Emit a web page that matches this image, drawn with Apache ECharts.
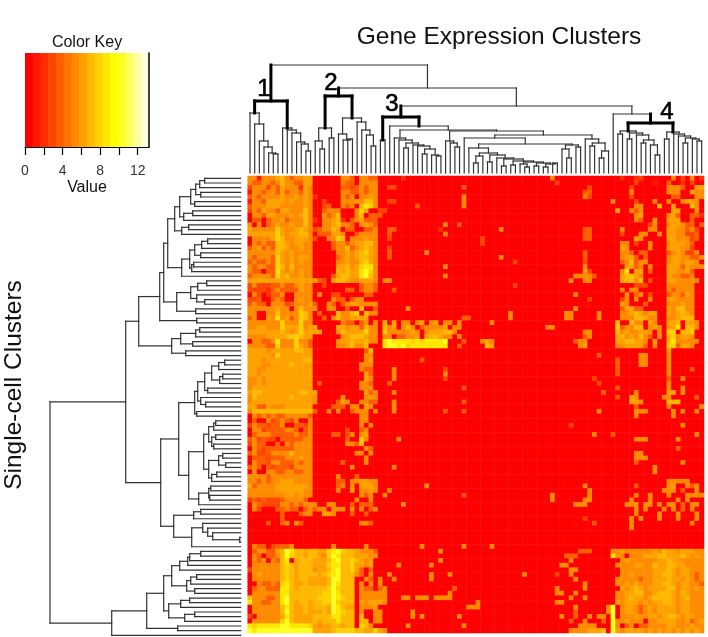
<!DOCTYPE html>
<html><head><meta charset="utf-8">
<style>html,body{margin:0;padding:0;background:#fff}#c{width:708px;height:637px}</style>
<script src="https://cdn.jsdelivr.net/npm/echarts@6/dist/echarts.min.js"></script>
</head><body><div id="c"></div>
<script>
// Expression values, one hex digit per cell (0..d), one string per single-cell row.
const heatRows = [
"55155567545566 00000055405544 00000200000000000000 000000000000000005000000000000 00200230000005030502",
"54455457554466 00000054405555 00000000000000000000 000000000000000000300000000000 00000300010040020300",
"35553546555265 00000044345455 00330000000000000040 000000000000000000000000030000 00003000000055540066",
"15545546455465 00000055445455 00000000000000000000 000000000000000000000000440000 00005000000055500655",
"45455556556565 20000054505565 00000000000000000050 000000000000000000000000530000 00003000000004400055",
"15546666565565 00300055565775 00330000000000000050 000000000000000000000000000000 50000300050050056650",
"45556665555565 00340054507985 00000000400000000050 000000000000000000000000000000 00000550007006000750",
"35465546655575 00455500058600 33000000000000000000 000000000000000000000000000000 06005450000006600050",
"05546655565675 00645700057044 40000000000000000000 000000000000000000000000000000 00000560000056400442",
"04404556455575 20556720456444 00000000000000000000 000000000000000000000000000000 00000540060066600400",
"50504565565575 00556755405654 00000000000000500400 000000000000000000000000000000 00000000350056654404",
"65555586556765 34557604400445 00440000000002000000 000000500000000000000000440000 00500000550066554530",
"66666686566775 04446650045555 00400000000000500000 000000000000000000000000440000 00300055005066553340",
"05555687556665 30055870555655 00300000000000000000 003000000000000000000000440000 00000650000066555340",
"05454477656655 00004554566775 00000000000000000000 003000000000000000000000000000 00550300500056665400",
"45645477655655 00004557456765 00300000000000000000 000000000000000000000000000000 00650000500066655300",
"55555576565555 00000556567865 00400000005000000000 000000000000000000000000400000 00554044000045653350",
"54555486565665 00000456567765 00400000000000000000 000000500000000000000000400000 00566404000056655445",
"45445486565655 00000556557865 00000000000000000000 000000000300000000000000300000 00457455000056656650",
"54554487575555 00000667568995 00000000000000500000 000000000000000000000000500000 00066450500066646555",
"54404496565655 00000767669a85 00000000000000000000 000000000000000000000000630000 00590660400066556400",
"45555486755655 00004677669a75 00000000000000500000 000000000000000000000055554000 00677650000065544500",
"66666666666666 64306776556665 05500000000000000000 000000000000000000000500550000 00677570300066555550",
"35333445445655 00300000004554 00000000000000000000 000000000300000000000000000000 00000333000055555500",
"33332454444655 00000004404554 00040000000000000000 000000000000000000000000000000 00505500000054555500",
"05302445005555 05003300000440 00000000000000000000 000000000000000000000050000000 00050450300045546500",
"33400454005655 00005440455000 00000000000000000000 000000000000000000000000030000 00350500500066555500",
"45440555345556 40054045665555 00000000000000000000 000000000000000000000000000000 00650004000055565500",
"55555565505755 50055004007004 00000050000000000000 000000000000000000000050000000 00466440000065775500",
"55005575555875 04000755780755 00000000000000000000 000000005000000000005500000500 00556765660065676500",
"45006595645875 00405755666600 00000000000000000044 000000005000000000005500000500 00555776550055677700",
"55555558555855 00000054404505 07060550560560550500 000050000000000000000000000000 07007550650066706650",
"55665558666856 60000665664755 07560575045555605500 000000000000000055000000000000 08455770565066907750",
"66666667656866 66000576666855 08555556505666775000 000000000000000000000000550000 07565566505088077800",
"55556666788766 00000056777655 05504455606776550500 000000000000000000000000450000 06756575405078566500",
"05544595558554 00000566766755 09a99998989999a00040 005650000000000000000045500000 06677665060079555550",
"55554485558654 00000556755700 09aa9a89999999900400 000760000000000000000005600000 05566664050088466500",
"66665666667766 00000000000470 00000000000000000000 000000000000000000000000000000 00000000000060000000",
"66666586666666 00000000000550 00000000000000000000 000000000000000000000000000400 00000055000050000000",
"66656666666677 00000000000560 00000000040000000000 000000000000000000000000000000 04000055000050000000",
"66655666676666 00000000005550 00000000000000000000 000000000000000000000000000000 04000055000050000000",
"66556666666666 00000000005440 00050000000000300000 000000000000000000000000000000 04000000000050000400",
"66566666666666 00000000000640 00050000000000500000 000000000000000000000000000000 04000000000050000000",
"55656666666666 00000000000650 00050000000000300000 000000000000000000000000003000 00000000000040050000",
"55656666666666 04000000005540 00400000000000000000 000000000000000000000000000300 00000000000050000000",
"56666666666666 00000000005550 00000000000000000040 000000000000000000000000000000 04000000000050050000",
"67766666666776 60000000000645 00050000000000000000 000000000000000000000000000040 00000500000066050000",
"57666666676666 50000050000565 00000000000000000000 000000000000000000000000000000 04006500000550000040",
"56666666666666 50000465005544 00050000000000000040 000000000000000000000000000000 00006650000077700000",
"66446555666666 00004440550650 00050000000000000000 000000000000000000000000000000 00000400000050000005",
"57777777777777 40050500455505 00050000000000400040 000000000000000000000000000500 00000555000005050050",
"05454544555554 00000000005500 00000000000000000000 000000000000000000000000000000 00000500000005000000",
"04005345435005 00000000005500 00000000000000000000 000000000000000000000000000000 00000000000000000000",
"35443445004435 00000000005050 00000000000000000000 000000000000000000000300000000 00000000000000050000",
"05534444554045 00000003004500 00000000000000000000 000000000000000000000000000000 00000000000000000000",
"04555444445445 00004403505600 00000000000000000000 000000000000000000000000005000 40000000000000000050",
"45343304444455 00000004008500 00005000000000000000 000000000000000000000000000000 00000555000000500000",
"35440040545555 00000005547000 00000000000000000000 000000000000000000000000000000 00000000000000000000",
"05434444445555 00000000000540 00000000000000000000 000000000000000000000000000000 00000000000000400000",
"45334555575555 00000000055050 00000000000000000000 000000000000000000000000000000 00000550000000000000",
"04443444555655 00000000000500 00000000000000000000 000000000000000000000000000000 00000555000000000000",
"05443554445455 00000040000500 00000000000000000000 000000000000000000000000000000 00000400000000050000",
"45404344435555 00000000500000 00050000000000000000 000000000000000000000000000000 00000000050000000000",
"05005544554455 00000000000000 00000000000000000000 000000000000000000000000000000 00000000050000000000",
"55554555555555 00000500040000 00000000000000000000 000000000000000000000000000000 00000000000000000000",
"55454556665555 00000440556655 00000000000000000000 000000000000000000000000000000 00000000000055555000",
"64555566666665 00000450506665 00000000005000000000 000000000000000000000000500000 00000400000056005450",
"55555566666655 00000500605565 00500000000000000000 000000000000000000000000050000 00000000000555040050",
"55555555665655 00000000005450 05000000000000000040 000000000000000005000000050000 00000500500050005555",
"34343334555540 00000000050050 00000000000000000000 000000000000000005000000550000 00005000500000505000",
"05433335545455 50055000404440 00000500000000000000 000000000000000000000055500000 00055505505055040550",
"05300044544045 45505550505045 00000000000000000000 000000000000000000000000000000 00000505000505040500",
"00000004000455 00665000400400 00000000000000000000 000000000000000000000000000000 00000500005000500050",
"00000004000000 00000000000000 00000000000000000000 000000000000000000000000300000 00005050005000500050",
"00004004505400 00000000005540 00000000000000000000 000000000000000000000000004000 00005000000000000500",
"00000000000000 00000000000000 00000000000000000000 000000000000000000000000000000 00005000000000000000",
"00000000000000 00000000000000 00000000000000000000 000000000000000000000000000000 00000000000000000000",
"00000000000000 00000000000000 00000000000000000000 000000000000000000000000000000 00000000000000000000",
"00000000000000 00000000000000 00000000000000000000 000000000000000000000000000000 00000000000000000000",
"05440344450000 00005000000500 00000000050000000050 000050000000000000000000000000 00000000000000000000",
"04554467a97767 76689a87765554 00000000000005000000 000000000000000000000004440000 55655555565766566655",
"05404457a87767 7658a977766655 00000000000000000000 000000000000000000004440000000 95505556667766676565",
"05450547906777 66679a77876560 00000000000005000000 000000000000000000000500000000 00565555556676655555",
"05555557876777 66689977866560 00005000000500000000 000000000000000000055000000000 05555665576677665555",
"35555557876777 56679a77864040 00000000000000000000 000000000000000000000550000000 00555555566676566555",
"05655557876777 76789a77754050 00500000000500050000 000000000005000000300500000000 00556555566776566545",
"05555557876776 6667aa77700540 50050000000500000000 000000000000000000000050000000 05555545566676656545",
"00544548976676 6667a977705050 50000000000000000000 000000000000000000000000500000 05565655566776566554",
"04554449976777 7778a877705440 45000000000000004000 000000000000000000500000500000 00656765666677566565",
"05555559977777 7788a977705555 55000000000000050000 000000000000000000550050000000 05566775567776576555",
"75554459a77777 7888a987705555 55000550555055550000 000000000000000000000500500000 05567665677776567555",
"95544559a76776 7788a877706566 65000000000000000000 050000000000000000550000000000 06566656566776566555",
"05555557976676 7776a976605556 00000000000000000005 550000000000000000000050000005 a0566545656666566555",
"05555557a76676 6676a987705005 50000005000000000000 000000000000000000000040000005 a0566545656666566555",
"30555556976666 77779977707005 50000005050000000500 000000000000000000050040050550 a0555655665677656655",
"05555558a76666 76777977707705 50000000000000000000 000000000000000000000400500040 a5565550556666556456",
"9899999aa99998 65667767708750 00000050000000000050 000000000000000000000005555000 a5045044555566555655",
"a9aaaaaaaaaaaa 66667888877668 65000000000000000000 000000000000000000000555566670 a6566665656565656565",
"008999ccc9a999 9999cccc99a909 99700000000000000000 000000000000000000087999989990 09999a99999a99999a99"
];

// Dendrogram trees: [height, left, right]; 0 is a leaf.
const L = 0;
const colCluster1 = [72,
  [60, L, [49, L, [32, L, [26, L, [20, L, [19, L, L]]]]]],
  [45, L, [43, L, [40, L, [31, L, [29, L, [22, L, L]]]]]]];
const colCluster2 = [77,
  [45, [32, L, [24, L, L]], [35, L, L]],
  [55, [39, L, [33, L, [34, L, L]]], [51, L, [43, L, [38, L, [27, L, L]]]]]];
const colSubQ = [35, L, [33, L, [30, [25, L, L], [28, L, [27, L, [24, [19, L, L], [18, L, [17, L, L]]]]]]]];
const colSubS = [32, L, [30, L, [26, L, L]]];
const colSubW1e = [15, L, [14, [7, L, L], [12, [8, L, L], [11, [9, L, [6, L, L]], [10, [7, L, L], [9, [6, L, L], [10, L, L]]]]]]];
const colSubW1 = [25, L, [20, [17, [10, L, L], L], [18, [11, L, L], colSubW1e]]];
const colSubW2 = [28, [24, L, [15, L, L]], [26, L, L]];
const colSubT = [38, [35, L, [29, colSubW1, colSubW2]], [34, L, [30, [27, L, L], [22, [15, L, L], L]]]];
const colCluster3 = [56, [33, L, L], [47, L, [43, colSubQ, [42, colSubS, colSubT]]]];
const colCluster4 = [50,
  [42, [39, L, L], [40, [34, L, L], [38, L, [33, [30, L, L], [28, L, [18, L, L]]]]]],
  [41, [34, L, L], [39, L, [37, L, [35, [30, L, L], [34, L, [32, L, L]]]]]]];
const colTree = [108, colCluster1, [85, colCluster2, [67, colCluster3, [59, L, colCluster4]]]];
const colThickHeights = [72, 77, 56, 50];

const rowBlockU = [102,
  [81,
    [77,
      [73,
        [66,
          [61,
            [50, [45, [41, [36, L, L], L], [40, L, L]], [46, L, L]],
            [57, [48, L, L], L]],
          [59, [52, L, L], L]],
        [59, [51, [46, [39, [33, L, L], L], [40, L, L]], [49, [47, L, L], L]], L]],
      [64, [50, [43, [34, L, L], L], [44, L, [36, L, L]]], [45, L, L]]],
    [44, L, L]],
  [69, [60, [45, [41, L, L], L], [48, L, L]], [55, L, L]]];
const rowBlockB1 = [46,
  [43, [36, [29, [22, [16, L, L], L], [21, [18, L, L], L]], [33, L, L]], [40, L, [35, L, L]]],
  [44, L, L]];
const rowBlockMid = [52,
  [37,
    [32, [27, [25, L, L], L], [29, [25, L, L], [27, L, L]]],
    [32, [22, [18, L, L], [15, L, L]], [29, [24, L, L], L]]],
  [42, [32, [30, L, L], [31, L, L]], L]];
const rowBlockLow = [67,
  [47, [40, L, L], L],
  [49, [38, L, [33, L, [28, L, [1, L, L]]]], L]];
const rowBlockBottom = [129,
  [94,
    [77,
      [69, [61, [53, [51, [40, L, L], L], L], L], [54, [50, [44, L, L], L], [46, L, L]]],
      [72, [60, [51, L, L], L], [56, [46, L, L], L]]],
    [63, L, L]],
  L];
const rowTree = [190.7, [115, rowBlockU, [80, [62, rowBlockB1, rowBlockMid], rowBlockLow]], rowBlockBottom];

const keyColors = ["#FF0000","#FF1700","#FF2E00","#FF4600","#FF5D00","#FF7400","#FF8B00","#FFA200","#FFB900","#FFD100","#FFE800","#FFFF00","#FFFF20","#FFFF60","#FFFF9F","#FFFFDF"];
const keyMax = 13.2;
const keyTicks = [0, 4, 8, 12];
const clusterLabels = ["1", "2", "3", "4"];

const cols = 98, rows = 98;
const bandW = keyMax / keyColors.length;
const heatData = [];
heatRows.forEach((s, r) => {
  const t = s.replace(/\s/g, '').padEnd(cols, '0').slice(0, cols);
  for (let c = 0; c < cols; c++) heatData.push([c, r, parseInt(t[c], 16)]);
});

function segments(tree, thickHeights) {
  const out = []; let next = 0;
  function walk(n) {
    if (n === 0) return { p: next++, h: 0, t: false };
    const a = walk(n[1]), b = walk(n[2]);
    const t = thickHeights.includes(n[0]);
    out.push([a.p, n[0], b.p, n[0], t ? 1 : 0]);
    out.push([a.p, a.h, a.p, n[0], (t || a.t) ? 1 : 0]);
    out.push([b.p, b.h, b.p, n[0], (t || b.t) ? 1 : 0]);
    return { p: (a.p + b.p) / 2, h: n[0], t };
  }
  walk(tree);
  return out;
}
const idx = n => Array.from({ length: n }, (_, i) => String(i));
const hidden = o => Object.assign({ show: false }, o);
const lineItem = swap => (params, api) => {
  const v = i => api.value(i);
  const a = swap ? api.coord([v(1), v(0)]) : api.coord([v(0), v(1)]);
  const b = swap ? api.coord([v(3), v(2)]) : api.coord([v(2), v(3)]);
  const thick = v(4) === 1;
  return { type: 'line', shape: { x1: a[0], y1: a[1], x2: b[0], y2: b[1] },
    style: { stroke: thick ? '#000' : '#333', lineWidth: thick ? 3 : 1.2, lineCap: 'square' } };
};
const font = '"Liberation Sans", Arial, sans-serif';
const txt = (s, x, y, size, extra) => ({ type: 'text', x, y, silent: true, style: Object.assign({
  text: s, fill: '#111', font: size + 'px ' + font, textAlign: 'center', textVerticalAlign: 'middle' }, extra || {}) });
const numStyle = { stroke: '#000', lineWidth: 0.6, fill: '#000' };

const chart = echarts.init(document.getElementById('c'), null, { renderer: 'canvas' });
chart.setOption({
  animation: false,
  backgroundColor: '#fff',
  grid: [
    { left: 247.7, top: 176, width: 456.3, height: 457 },
    { left: 247.7, top: 50, width: 456.3, height: 123 },
    { left: 40.7, top: 176, width: 200, height: 457 },
    { left: 25, top: 53, width: 124, height: 94 }
  ],
  xAxis: [
    hidden({ type: 'category', gridIndex: 0, data: idx(cols) }),
    hidden({ type: 'value', gridIndex: 1, min: -0.5, max: cols - 0.5 }),
    hidden({ type: 'value', gridIndex: 2, min: 0, max: 200, inverse: true }),
    { type: 'value', gridIndex: 3, min: 0, max: keyMax, interval: 2, z: 5,
      splitLine: { show: false },
      axisLine: { show: true, onZero: false, lineStyle: { color: '#000', width: 1.2 } },
      axisTick: { show: true, length: 8, lineStyle: { color: '#000', width: 1.2 } },
      axisLabel: { margin: 17, fontSize: 14, color: '#333', fontFamily: font, showMaxLabel: false,
        formatter: v => keyTicks.includes(v) ? String(v) : '' } }
  ],
  yAxis: [
    hidden({ type: 'category', gridIndex: 0, data: idx(rows), inverse: true }),
    hidden({ type: 'value', gridIndex: 1, min: 0, max: 123 }),
    hidden({ type: 'value', gridIndex: 2, min: -0.5, max: rows - 0.5, inverse: true }),
    { type: 'value', gridIndex: 3, min: 0, max: 1, position: 'right', z: 5, splitLine: { show: false },
      axisLabel: { show: false }, axisTick: { show: false },
      axisLine: { show: true, onZero: false, lineStyle: { color: '#000', width: 1.5 } } }
  ],
  visualMap: {
    type: 'piecewise', show: false, seriesIndex: 0, dimension: 2,
    pieces: keyColors.map((c, i) => ({ gte: i * bandW, lt: (i + 1) * bandW + (i === keyColors.length - 1 ? 1 : 0), color: c }))
  },
  series: [
    { type: 'heatmap', xAxisIndex: 0, yAxisIndex: 0, data: heatData, progressive: 0, silent: true,
      itemStyle: { borderWidth: 0 }, emphasis: { disabled: true } },
    { type: 'custom', xAxisIndex: 1, yAxisIndex: 1, coordinateSystem: 'cartesian2d', clip: false, silent: true,
      data: segments(colTree, colThickHeights), renderItem: lineItem(false) },
    { type: 'custom', xAxisIndex: 2, yAxisIndex: 2, coordinateSystem: 'cartesian2d', clip: false, silent: true,
      data: segments(rowTree, []), renderItem: lineItem(true) },
    { type: 'custom', xAxisIndex: 3, yAxisIndex: 3, coordinateSystem: 'cartesian2d', clip: false, silent: true, z: 1,
      data: keyColors.map((c, i) => [i * bandW, (i + 1) * bandW]),
      renderItem: (p, api) => {
        const a = api.coord([api.value(0), 1]), b = api.coord([api.value(1), 0]);
        return { type: 'rect', shape: { x: a[0], y: a[1], width: b[0] - a[0] + 0.5, height: b[1] - a[1] },
          style: { fill: keyColors[p.dataIndex] } };
      } }
  ],
  graphic: [
    txt('Color Key', 87, 43, 16),
    txt('Value', 87, 188, 16),
    txt('Gene Expression Clusters', 499, 37, 24.5),
    Object.assign(txt('Single-cell Clusters', 14, 385, 24.5), { rotation: Math.PI / 2 }),
    txt(clusterLabels[0], 264, 89, 24, numStyle),
    txt(clusterLabels[1], 331, 83, 24, numStyle),
    txt(clusterLabels[2], 392, 104, 24, numStyle),
    txt(clusterLabels[3], 667, 112, 24, numStyle)
  ]
});
</script></body></html>
